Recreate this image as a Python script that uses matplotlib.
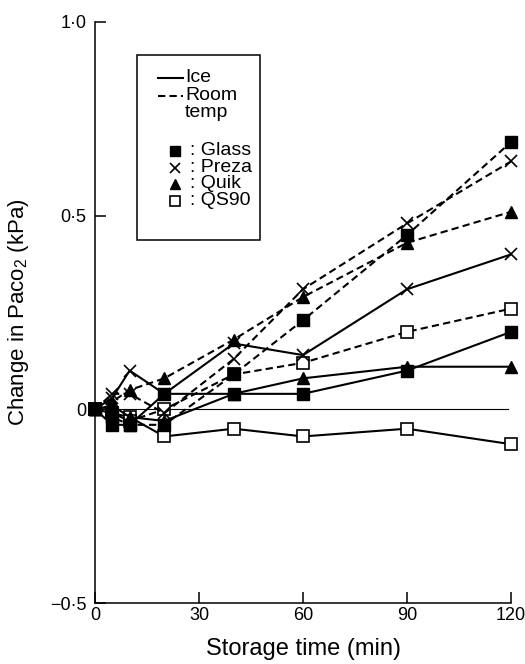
import matplotlib
matplotlib.use("Agg")
import matplotlib.pyplot as plt
from matplotlib.lines import Line2D
from matplotlib.patches import Rectangle


W, H = 525, 664

times = [0, 5, 10, 20, 40, 60, 90, 120]

glass_ice = [0, -0.04, -0.04, 0.04, 0.04, 0.04, 0.10, 0.20]
glass_rt = [0, -0.02, -0.04, -0.04, 0.09, 0.23, 0.45, 0.69]
preza_ice = [0, 0.03, 0.10, 0.04, 0.17, 0.14, 0.31, 0.40]
preza_rt = [0, 0.04, 0.04, -0.01, 0.13, 0.31, 0.48, 0.64]
quik_ice = [0, 0.01, -0.02, -0.03, 0.04, 0.08, 0.11, 0.11]
quik_rt = [0, 0.02, 0.05, 0.08, 0.18, 0.29, 0.43, 0.51]
qs90_ice = [0, -0.01, -0.02, -0.07, -0.05, -0.07, -0.05, -0.09]
qs90_rt = [0, -0.01, -0.03, 0.00, 0.09, 0.12, 0.20, 0.26]

x_ticks = [0, 30, 60, 90, 120]
y_ticks = [-0.5, 0, 0.5, 1.0]
y_tick_labels = ["\u22120\u00b75", "0", "0\u00b75", "1\u00b70"]

material_labels = ["Glass", "Preza", "Quik", "QS90"]
material_kinds = ["glass", "preza", "quik", "qs90"]

MARKERS = {
    "glass": dict(marker="s", markersize=8, markerfacecolor="black", markeredgecolor="black"),
    "preza": dict(marker="x", markersize=9, markeredgewidth=1.2, markeredgecolor="black"),
    "quik": dict(marker="^", markersize=8, markerfacecolor="black", markeredgecolor="black"),
    "qs90": dict(marker="s", markersize=8, markerfacecolor="white", markeredgecolor="black",
                 markeredgewidth=1.2),
}
DASH = (0, (3.5, 2.0))


def px(x, y):
    return x / W, 1 - y / H


def main():
    plt.rcParams.update({
        "font.family": ["Liberation Sans", "DejaVu Sans"],
        "mathtext.fontset": "custom",
        "mathtext.rm": "Liberation Sans",
        "mathtext.it": "Liberation Sans",
    })
    fig = plt.figure(figsize=(W / 100, H / 100), dpi=100)
    left, top = px(95, 22)
    right, bottom = px(511, 603)
    ax = fig.add_axes([left, bottom, right - left, top - bottom])

    ax.plot([0, 119], [0, 0], color="black", lw=0.8, zorder=1)

    series = [
        (qs90_ice, "qs90", "-"), (qs90_rt, "qs90", DASH),
        (quik_ice, "quik", "-"), (quik_rt, "quik", DASH),
        (glass_ice, "glass", "-"), (glass_rt, "glass", DASH),
        (preza_ice, "preza", "-"), (preza_rt, "preza", DASH),
    ]
    for values, kind, ls in series:
        ax.plot(times, values, color="black", lw=1.5, linestyle=ls, clip_on=False,
                zorder=3, **MARKERS[kind])

    ax.set_xlim(0, 120)
    ax.set_ylim(-0.5, 1.0)
    ax.set_xticks(x_ticks)
    ax.set_yticks(y_ticks, labels=y_tick_labels)
    for side in ("top", "right"):
        ax.spines[side].set_visible(False)
    for side in ("left", "bottom"):
        ax.spines[side].set_linewidth(1.1)
    ax.tick_params(direction="in", length=8, width=1.1, labelsize=13, pad=3)
    ax.tick_params(axis="y", pad=6)
    ax.set_xlabel("Storage time (min)", fontsize=17, labelpad=10)
    ax.set_ylabel("Change in Paco$_2$ (kPa)", fontsize=16, labelpad=14)

    # legend box drawn by hand to match the original layout
    x0, y0 = px(137, 240)
    x1, y1 = px(260, 55)
    fig.add_artist(Rectangle((x0, y0), x1 - x0, y1 - y0, transform=fig.transFigure,
                             facecolor="white", edgecolor="black", lw=1.1))
    for ypix, ls in [(78, "-"), (96, DASH)]:
        a, b = px(158, ypix)
        c, _ = px(183, ypix)
        fig.add_artist(Line2D([a, c], [b, b], transform=fig.transFigure, color="black",
                              lw=1.5, linestyle=ls))
    tx, ty = px(185, 69)
    fig.text(tx, ty, "Ice\nRoom\ntemp", fontsize=14, va="top", ha="left", linespacing=1.05)

    for i, kind in enumerate(material_kinds):
        mx, my = px(175, 151 + 16.7 * i)
        style = dict(MARKERS[kind])
        style["markersize"] = style["markersize"] - 1.5
        fig.add_artist(Line2D([mx], [my], transform=fig.transFigure, color="black",
                              linestyle="none", **style))
    tx, ty = px(190, 142)
    fig.text(tx, ty, "\n".join(": " + m for m in material_labels), fontsize=14,
             va="top", ha="left", linespacing=0.98)

    fig.savefig("out.png", dpi=100)


if __name__ == "__main__":
    main()
